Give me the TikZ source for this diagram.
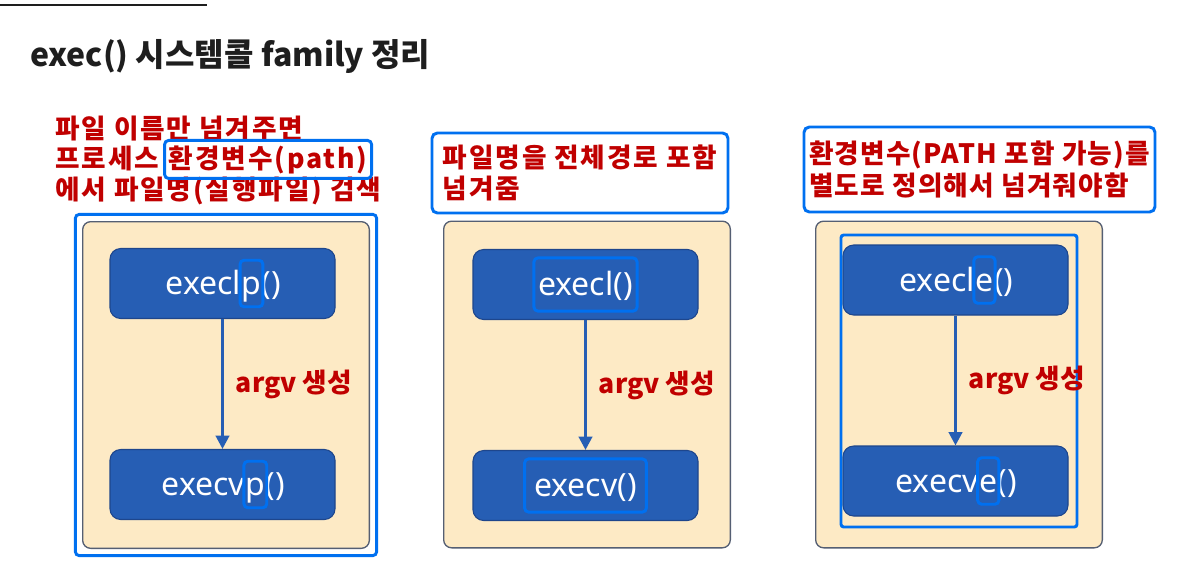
\documentclass[tikz,border=0pt]{standalone}
\usepackage{fontspec}
\setmainfont{Noto Sans}
\newfontfamily\krfont{Noto Sans CJK KR}
\newfontfamily\krwide{Noto Sans CJK KR}[LetterSpace=7]
\newfontfamily\krhalf{Noto Sans CJK KR}[LetterSpace=4.5]
\usetikzlibrary{positioning, arrows.meta, fit, calc}

\definecolor{fnblue}{RGB}{38,94,180}
\definecolor{fnedge}{RGB}{30,70,140}
\definecolor{paper}{RGB}{253,234,197}
\definecolor{paperedge}{RGB}{85,95,115}
\definecolor{markblue}{RGB}{0,112,240}
\definecolor{notered}{RGB}{192,0,0}
\definecolor{titlegray}{RGB}{30,30,30}

\tikzset{
  panel/.style={draw=paperedge, fill=paper, line width=1pt, rounded corners=6pt,
    minimum width=215pt, minimum height=245pt},
  fnbox/.style={draw=fnedge, fill=fnblue, line width=0.8pt, rounded corners=8pt,
    minimum width=168.75pt, minimum height=52.5pt},
  fntext/.style={text=white, inner sep=0pt, font=\fontsize{24}{28}\selectfont,
    text height=20.5pt, text depth=4pt},
  hlbox/.style={draw=markblue, line width=2.2pt, rounded corners=3pt,
    inner xsep=1pt, inner ysep=5pt},
  note/.style={text=notered, font=\krwide\bfseries\fontsize{20}{23.5}\selectfont,
    inner sep=0pt},
  argnote/.style={note, font=\krfont\bfseries\fontsize{20}{23.5}\selectfont},
  notebox/.style={note, draw=markblue, line width=2.2pt, rounded corners=4pt,
    align=left},
  flow/.style={draw=fnblue, line width=2.2pt, -{Triangle[width=10pt,length=10pt]}},
}

\begin{document}
\begin{tikzpicture}[x=0.75pt, y=-0.75pt, node distance=150.75pt, on grid]
  \fill[white] (0,0) rectangle (1196,583);
  \useasboundingbox (0,0) rectangle (1196,583);

  % heading
  \coordinate (ruleL) at (0,5);
  \coordinate (ruleR) at (207,5);
  \draw[titlegray, line width=1.5pt] (ruleL) -- (ruleR);
  \node[anchor=base west, inner sep=0pt, text=titlegray,
    font=\krfont\bfseries\fontsize{24}{28}\selectfont] (title) at (30,66)
    {exec() 시스템콜 family 정리};

  % left: execlp -> execvp
  \node[note, anchor=base west] (lnA) at (55,138) {파일 이름만 넘겨주면};
  \node[note, anchor=base west] (lnB) at (55,168) {프로세스};
  \node[note, anchor=base west] (lnC) at ([xshift=7pt]lnB.base east) {환경변수(path)};
  \node[note, anchor=base west] (lnD) at (55,199) {에서 파일명(실행파일) 검색};
  \node[hlbox, fit=(lnC), inner xsep=3pt, inner ysep=3.5pt] (lnMark) {};

  \node[panel] (panL) at (226,385) {};
  \node[hlbox, fit=(panL), inner sep=5pt] (panLMark) {};
  \node[fnbox] (lp) at (222.5,283.5) {};
  \node[fnbox, below=of lp] (vp) {};
  \node[fntext, anchor=east] (lpA) at ([xshift=14.15pt]lp.center) {execl};
  \node[fntext, anchor=west] (lpX) at (lpA.east) {p};
  \node[fntext, anchor=west] (lpC) at (lpX.east) {()};
  \node[fntext, anchor=east] (vpA) at ([xshift=17.05pt]vp.center) {execv};
  \node[fntext, anchor=west] (vpX) at (vpA.east) {p};
  \node[fntext, anchor=west] (vpC) at (vpX.east) {()};
  \node[hlbox, fit=(lpX)] (lpMark) {};
  \node[hlbox, fit=(vpX)] (vpMark) {};
  \draw[flow] (lp) -- node[argnote, midway, right=9pt] (argL) {argv 생성} (vp);

  % middle: execl -> execv
  \node[notebox, minimum width=222pt, minimum height=60pt] (noteM) at (580,173)
    {파일명을 전체경로 포함\\넘겨줌};
  \node[panel] (panM) at (587,384.5) {};
  \node[fnbox] (lt) at (585.5,284.5) {};
  \node[fnbox, below=of lt] (vt) {};
  \node[fntext] (ltT) at (lt) {execl()};
  \node[fntext] (vtT) at (vt) {execv()};
  \node[hlbox, fit=(ltT), inner xsep=3pt, inner ysep=7.5pt] (ltMark) {};
  \node[hlbox, fit=(vtT), inner xsep=7pt, inner ysep=7.5pt] (vtMark) {};
  \draw[flow] (lt) -- node[argnote, midway, right=9pt] (argM) {argv 생성} (vt);

  % right: execle -> execve
  \node[notebox, font=\krhalf\bfseries\fontsize{20}{23.5}\selectfont,
    minimum width=263.25pt, minimum height=63.75pt] (noteR) at (979.5,169.5)
    {환경변수(PATH 포함 가능)를\\별도로 정의해서 넘겨줘야함};
  \node[panel] (panR) at (959,384.5) {};
  \node[fnbox] (le) at (955.5,280) {};
  \node[fnbox, below=of le] (ve) {};
  \draw[markblue, line width=2.2pt, rounded corners=2pt] (841,235) rectangle (1077,527);
  \node[fntext, anchor=east] (leA) at ([xshift=14.75pt]le.center) {execl};
  \node[fntext, anchor=west] (leX) at (leA.east) {e};
  \node[fntext, anchor=west] (leC) at (leX.east) {()};
  \node[fntext, anchor=east] (veA) at ([xshift=17.65pt]ve.center) {execv};
  \node[fntext, anchor=west] (veX) at (veA.east) {e};
  \node[fntext, anchor=west] (veC) at (veX.east) {()};
  \node[hlbox, fit=(leX)] (leMark) {};
  \node[hlbox, fit=(veX)] (veMark) {};
  \draw[flow] (le) -- node[argnote, midway, right=9pt] (argR) {argv 생성} (ve);
\end{tikzpicture}
\end{document}
